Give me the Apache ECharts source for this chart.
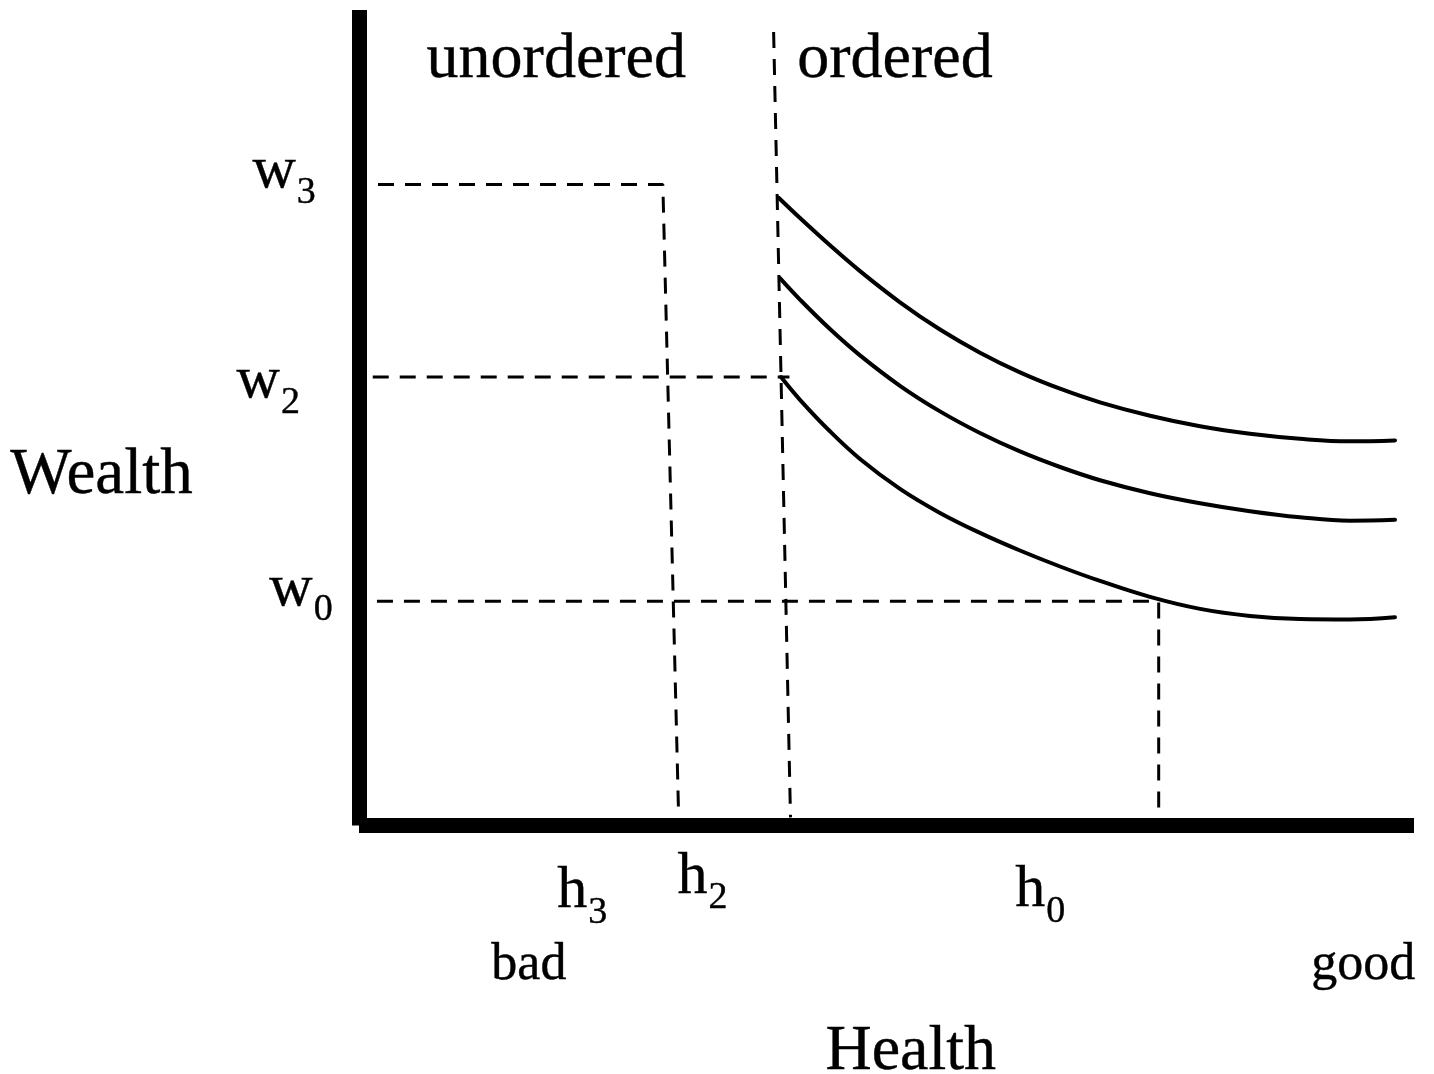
<!DOCTYPE html>
<html>
<head>
<meta charset="utf-8">
<script src="https://cdn.jsdelivr.net/npm/echarts@6/dist/echarts.min.js"></script>
<style>
  html, body { margin: 0; padding: 0; background: #fff; }
  #chart { width: 1434px; height: 1074px; }
</style>
</head>
<body>
<div id="chart"></div>
<script>
// health (x) and wealth (y) both run 0..100
const health = [41.80, 44.64, 47.49, 51.28, 55.07, 58.86, 62.65, 66.45, 70.24, 74.98, 79.72, 84.45, 89.19, 93.93, 98.20];

// indifference curves: start point, then wealth at each health value above
const highStart = [39.8, 76.95];
const highWealth = [74.49, 71.15, 67.98, 64.16, 60.82, 57.98, 55.57, 53.56, 51.89, 50.24, 48.95, 48.03, 47.42, 47.11, 47.22];
const midStart = [39.9, 67.12];
const midWealth = [64.49, 60.88, 57.65, 53.92, 50.78, 48.13, 45.87, 43.96, 42.34, 40.75, 39.52, 38.54, 37.80, 37.38, 37.49];
const lowStart = [40.0, 54.99];
const lowWealth = [52.20, 48.34, 44.95, 41.28, 38.33, 35.88, 33.72, 31.76, 29.99, 28.03, 26.56, 25.70, 25.33, 25.27, 25.54];

// dashed guide lines
const guideW3 = [[1.8, 78.6], [28.8, 78.6], [30.3, 1.0]];
const guideW2 = [[1.3, 55.0], [40.8, 55.0]];
const guideOrdered = [[39.3, 97.3], [40.9, 1.0]];
const guideW0 = [[1.7, 27.5], [75.8, 27.5], [75.8, 1.9]];

const chart = echarts.init(document.getElementById('chart'));

const FONT = 'Liberation Serif';
const INK = { color: '#000', textBorderColor: '#000', textBorderWidth: 0.4 };

function curve(start, wealth) {
  const data = [start].concat(health.map((h, i) => [h, wealth[i]]));
  return {
    type: 'line', data: data, smooth: 0.4, symbol: 'none', silent: true,
    lineStyle: { color: '#000', width: 4, cap: 'round' }
  };
}
function guide(data) {
  return {
    type: 'line', data: data, symbol: 'none', silent: true,
    lineStyle: { color: '#000', width: 3, type: [16, 11] }
  };
}

// text placed in data units (label middle)
function word(text, at, size) {
  return {
    value: at,
    label: Object.assign({ show: true, position: 'inside', formatter: text, fontFamily: FONT, fontSize: size }, INK)
  };
}
// letter with a subscript, anchored at its left edge
function sub(main, idx, at) {
  return {
    value: at,
    label: {
      show: true, position: 'inside', align: 'left', verticalAlign: 'middle',
      formatter: '{m|' + main + '}{s|' + idx + '}',
      rich: {
        m: Object.assign({ fontFamily: FONT, fontSize: 60, lineHeight: 60 }, INK),
        s: Object.assign({ fontFamily: FONT, fontSize: 38, lineHeight: 38, padding: [43, 0, 0, 1] }, INK)
      }
    }
  };
}

const texts = [
  word('unordered', [18.7, 93.9], 64),
  word('ordered', [50.8, 93.9], 64),
  word('Wealth', [-24.4, 42.9], 65),
  word('Health', [52.3, -27.8], 64),
  word('bad', [16.1, -17.1], 52),
  word('good', [95.2, -17.1], 52),
  sub('w', '3', [-10.1, 80.2]),
  sub('w', '2', [-11.6, 54.5]),
  sub('w', '0', [-8.5, 29.0]),
  sub('h', '3', [18.8, -8.1]),
  sub('h', '2', [30.2, -6.3]),
  sub('h', '0', [62.2, -8.0])
];

const option = {
  animation: false,
  backgroundColor: '#fff',
  grid: { left: 359, right: 20, top: 10, bottom: 248.5 },
  xAxis: {
    type: 'value', min: 0, max: 100,
    axisLine: { show: true, lineStyle: { color: '#000', width: 15, cap: 'butt' } },
    axisTick: { show: false }, axisLabel: { show: false }, splitLine: { show: false }
  },
  yAxis: {
    type: 'value', min: 0, max: 100,
    axisLine: { show: true, lineStyle: { color: '#000', width: 15, cap: 'butt' } },
    axisTick: { show: false }, axisLabel: { show: false }, splitLine: { show: false }
  },
  series: [
    guide(guideW3),
    guide(guideW2),
    guide(guideOrdered),
    guide(guideW0),
    curve(highStart, highWealth),
    curve(midStart, midWealth),
    curve(lowStart, lowWealth),
    {
      type: 'scatter', symbolSize: 0, clip: false, silent: true,
      itemStyle: { opacity: 1 },
      data: texts
    }
  ]
};

option && chart.setOption(option);
</script>
</body>
</html>
